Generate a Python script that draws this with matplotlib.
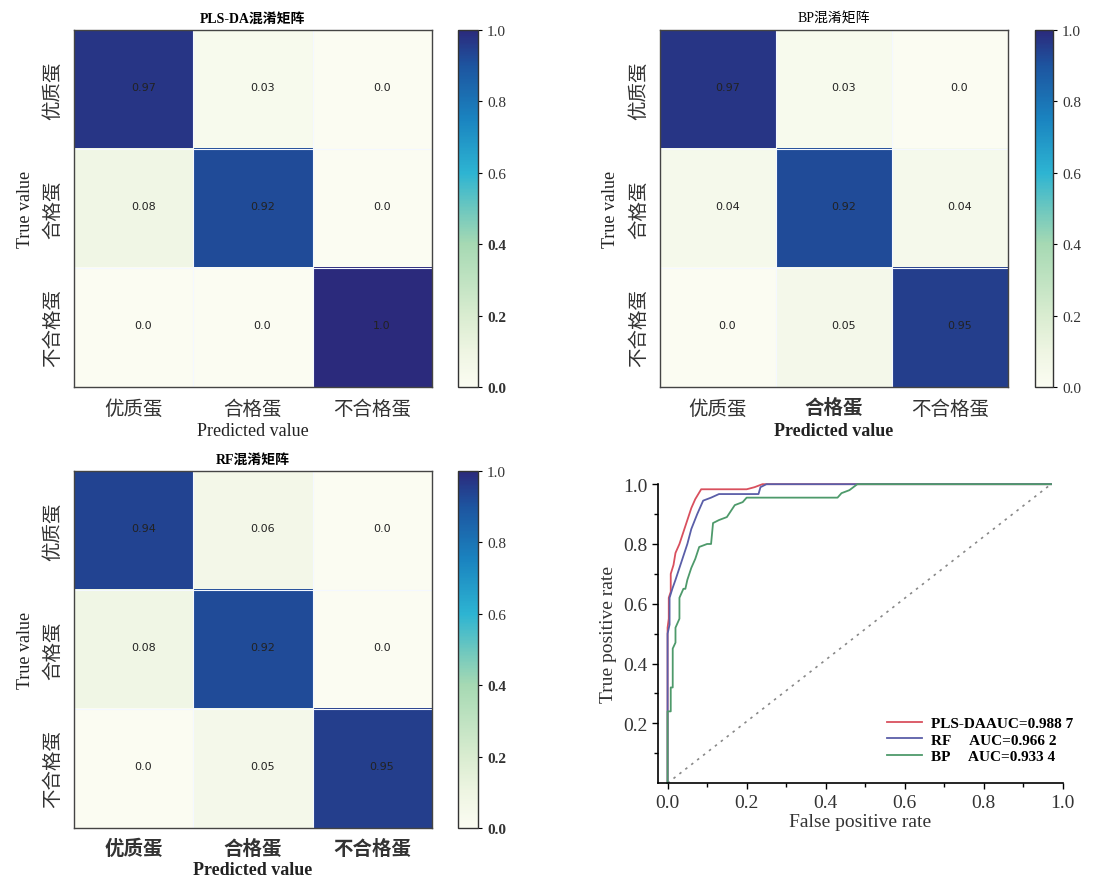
import numpy as np
import matplotlib
matplotlib.use("Agg")
import matplotlib.pyplot as plt
from matplotlib.colors import LinearSegmentedColormap

plt.rcParams['font.family'] = ['Liberation Serif', 'Noto Sans CJK SC', 'DejaVu Sans']

classes = ["优质蛋", "合格蛋", "不合格蛋"]

cm_plsda = [[0.97, 0.03, 0.0],
            [0.08, 0.92, 0.0],
            [0.0, 0.0, 1.0]]
cm_bp = [[0.97, 0.03, 0.0],
         [0.04, 0.92, 0.04],
         [0.0, 0.05, 0.95]]
cm_rf = [[0.94, 0.06, 0.0],
         [0.08, 0.92, 0.0],
         [0.0, 0.05, 0.95]]

# ROC curves
fpr_plsda = [0, 0, 0.003, 0.003, 0.008, 0.008, 0.015, 0.02, 0.03, 0.04, 0.05, 0.06, 0.07, 0.085, 0.20, 0.22, 0.24, 0.97]
tpr_plsda = [0, 0.52, 0.55, 0.62, 0.64, 0.70, 0.73, 0.77, 0.80, 0.84, 0.88, 0.92, 0.95, 0.983, 0.983, 0.99, 1.0, 1.0]
fpr_rf = [0, 0, 0.005, 0.005, 0.012, 0.02, 0.03, 0.04, 0.05, 0.06, 0.075, 0.09, 0.11, 0.13, 0.23, 0.235, 0.25, 0.97]
tpr_rf = [0, 0.50, 0.53, 0.62, 0.65, 0.68, 0.72, 0.76, 0.80, 0.85, 0.90, 0.945, 0.955, 0.967, 0.967, 0.99, 1.0, 1.0]
fpr_bp = [0, 0, 0.008, 0.008, 0.013, 0.013, 0.02, 0.02, 0.03, 0.03, 0.04, 0.045, 0.05, 0.06, 0.07, 0.08,
          0.1, 0.11, 0.115, 0.13, 0.15, 0.16, 0.17, 0.19, 0.2, 0.43, 0.44, 0.46, 0.48, 0.97]
tpr_bp = [0, 0.24, 0.24, 0.32, 0.32, 0.45, 0.47, 0.52, 0.55, 0.62, 0.65, 0.65, 0.68, 0.72, 0.75, 0.79,
          0.80, 0.80, 0.87, 0.88, 0.89, 0.91, 0.93, 0.94, 0.955, 0.955, 0.97, 0.98, 1.0, 1.0]
roc_labels = ["PLS-DAAUC=0.988 7", "RF     AUC=0.966 2", "BP     AUC=0.933 4"]

cjk = ['Noto Sans CJK SC', 'DejaVu Sans']
serif_cjk = ['Liberation Serif', 'Noto Sans CJK SC']

cmap = LinearSegmentedColormap.from_list("gnbu_navy", [
    (0.0, "#fbfcf2"), (0.1, "#eef5e2"), (0.2, "#d9ecd0"), (0.4, "#a6d9b3"),
    (0.5, "#6cc7bf"), (0.6, "#2db4d2"), (0.75, "#1a84c0"), (0.9, "#1d55a0"),
    (1.0, "#2b2a7c")])

fig = plt.figure(figsize=(10.98, 8.87), dpi=100)


def conf_panel(ax_rect, cb_rect, cm, title, title_bold, xbold, xlabel_bold, cb_bold):
    ax = fig.add_axes(ax_rect)
    cax = fig.add_axes(cb_rect)
    im = ax.imshow(np.array(cm), cmap=cmap, vmin=0, vmax=1, aspect="auto")
    for i in range(3):
        for j in range(3):
            ax.text(j + 0.08, i - 0.02, str(cm[i][j]), ha="center", va="center",
                    fontsize=8, color="#222222", family="DejaVu Sans")
    for k in (0.5, 1.5):
        ax.axhline(k, color="#f4f8ff", lw=0.8)
        ax.axvline(k, color="#f4f8ff", lw=0.8)
    ax.set_xticks(range(3))
    ax.set_yticks(range(3))
    ax.set_xticklabels(classes, family=cjk, fontsize=14, color="#333333")
    ax.set_yticklabels(classes, family=cjk, fontsize=14, color="#333333",
                       rotation=90, va="center")
    for i in xbold:
        ax.get_xticklabels()[i].set_fontweight("bold")
    ax.tick_params(length=0, pad=8)
    ax.set_xlabel("Predicted value", fontsize=13, color="#222222",
                  fontweight="bold" if xlabel_bold else "normal", labelpad=2)
    ax.set_ylabel("True value", fontsize=13, color="#222222", labelpad=6)
    ax.set_title(title, family=serif_cjk, fontsize=10,
                 fontweight="bold" if title_bold else "normal", pad=6)
    for s in ax.spines.values():
        s.set_color("#444444")
        s.set_linewidth(1.0)
    cb = fig.colorbar(im, cax=cax)
    cb.set_ticks([0.0, 0.2, 0.4, 0.6, 0.8, 1.0])
    cb.ax.tick_params(labelsize=11, labelcolor="#333333", length=3)
    cb.outline.set_linewidth(1.0)
    cb.outline.set_edgecolor("#333333")
    if cb_bold:
        for t in cb.ax.get_yticklabels()[:3]:
            t.set_fontweight("bold")
    return ax


conf_panel([0.0674, 0.5626, 0.326, 0.4025], [0.417, 0.5626, 0.0182, 0.4025],
           cm_plsda, "PLS-DA混淆矩阵", True, [], False, True)
conf_panel([0.601, 0.5626, 0.317, 0.4025], [0.9426, 0.5626, 0.0164, 0.4025],
           cm_bp, "BP混淆矩阵", False, [1], True, False)
conf_panel([0.0674, 0.0654, 0.326, 0.4025], [0.417, 0.0654, 0.0182, 0.4025],
           cm_rf, "RF混淆矩阵", True, [0, 1, 2], True, True)

# ROC
ax = fig.add_axes([0.599, 0.116, 0.369, 0.337])
ax.plot([0, 0.97], [0, 1.0], ls=(0, (1.5, 3)), color="#888888", lw=1.2)
ax.plot(fpr_plsda, tpr_plsda, color="#d9505e", lw=1.3, label=roc_labels[0], clip_on=False)
ax.plot(fpr_rf, tpr_rf, color="#5a5ea8", lw=1.3, label=roc_labels[1], clip_on=False)
ax.plot(fpr_bp, tpr_bp, color="#4e9a6b", lw=1.3, label=roc_labels[2], clip_on=False)
ax.set_xlim(-0.025, 1.0)
ax.set_ylim(0, 1.0)
ax.set_xticks([0, 0.2, 0.4, 0.6, 0.8, 1.0])
ax.set_xticks(np.arange(0.1, 1.0, 0.2), minor=True)
ax.set_yticks([0.2, 0.4, 0.6, 0.8, 1.0])
ax.set_yticks(np.arange(0.1, 1.0, 0.2), minor=True)
ax.xaxis.set_major_formatter(matplotlib.ticker.FormatStrFormatter("%.1f"))
ax.yaxis.set_major_formatter(matplotlib.ticker.FormatStrFormatter("%.1f"))
ax.tick_params(labelsize=14, labelcolor="#333333", length=4, width=1)
ax.tick_params(which="minor", length=3, width=1)
ax.spines["top"].set_visible(False)
ax.spines["right"].set_visible(False)
ax.spines["left"].set_linewidth(1.2)
ax.spines["bottom"].set_linewidth(1.2)
ax.set_xlabel("False positive rate", fontsize=14, color="#333333", labelpad=2)
ax.set_ylabel("True positive rate", fontsize=14, color="#333333", labelpad=4)
ax.legend(loc="lower right", bbox_to_anchor=(1.06, 0.02), frameon=False,
          prop={"family": "Liberation Serif", "weight": "bold", "size": 11},
          handlelength=2.3, handletextpad=0.6, labelspacing=0.2)

fig.savefig("out.png", dpi=100)
